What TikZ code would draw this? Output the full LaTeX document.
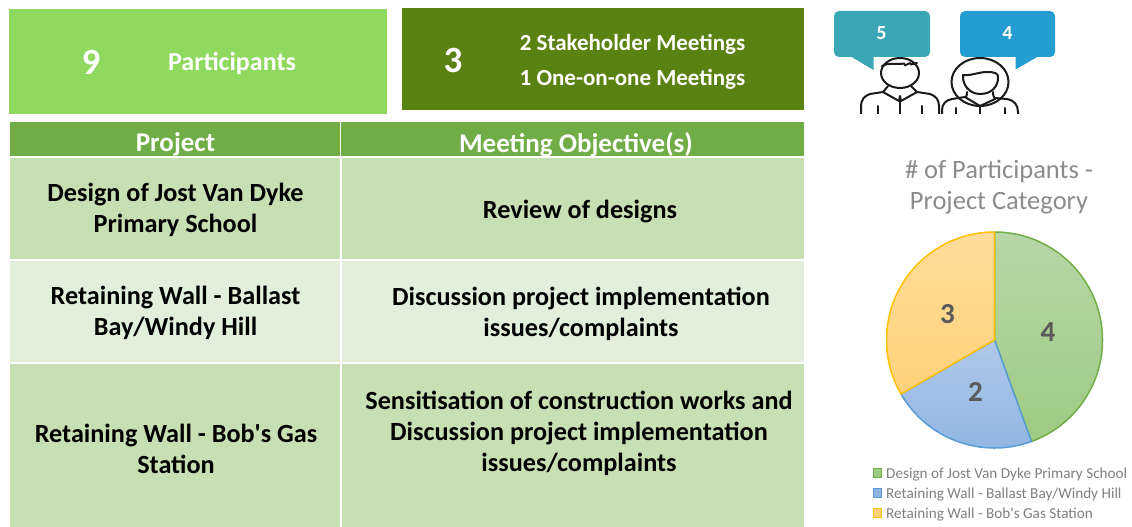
\documentclass[tikz,border=0pt]{standalone}
\usepackage{fontspec}
\setmainfont{Carlito}
\begin{document}
\begin{tikzpicture}[x=1pt,y=-1pt,
  every node/.style={font=\bfseries,align=center,inner sep=0pt},
  celltext/.style={font=\fontsize{26.2}{31}\selectfont\bfseries,text=black},
  headtext/.style={font=\fontsize{27}{30}\selectfont\bfseries,text=white},
  bannertext/.style={font=\fontsize{23}{35}\selectfont\bfseries,text=white},
  parttext/.style={font=\fontsize{26}{30}\selectfont\bfseries,text=white},
  bignum/.style={font=\fontsize{37}{40}\selectfont\bfseries,text=white},
  bubblenum/.style={font=\fontsize{20}{22}\selectfont\bfseries,text=white},
  pienum/.style={font=\fontsize{29}{30}\selectfont\bfseries,text=piegray},
  legendtext/.style={font=\fontsize{15.2}{17}\selectfont\mdseries,text=leggray,anchor=west},
  person/.style={draw=personblack,line width=2pt,line cap=round,line join=round},
  sw/.style={line width=1pt},
  slice/.style={line width=1.5pt,line join=round},
]
\definecolor{lightbanner}{HTML}{8FD95F}
\definecolor{darkbanner}{HTML}{5A8212}
\definecolor{headgreen}{HTML}{70AD47}
\definecolor{rowdark}{HTML}{C6E0B4}
\definecolor{rowlight}{HTML}{E2EFDA}
\definecolor{tealb}{HTML}{3AA8B4}
\definecolor{blueb}{HTML}{259DD0}
\definecolor{personblack}{HTML}{1A1A1A}
\definecolor{piegray}{HTML}{595959}
\definecolor{leggray}{HTML}{808080}
\definecolor{titlegray}{HTML}{8C8C8C}
\definecolor{pgreen}{HTML}{70AD47}
\definecolor{pblue}{HTML}{5B9BD5}
\definecolor{pyellow}{HTML}{FFC000}
\definecolor{gtop}{HTML}{B8D6A8}
\definecolor{gbot}{HTML}{9ECB82}
\definecolor{btop}{HTML}{AFC9E8}
\definecolor{bbot}{HTML}{8FB4E3}
\definecolor{ytop}{HTML}{FFDC9A}
\definecolor{ybot}{HTML}{FFD27A}
\useasboundingbox (0,0) rectangle (1132,527);
\fill[white] (0,0) rectangle (1132,527);

% banners
\fill[lightbanner] (9,9) rectangle (387,114);
\fill[darkbanner] (402,8) rectangle (804,110);
\node[bignum] (n9) at (91,62) {9};
\node[parttext] (part) at (232,63) {Participants};
\node[bignum] (n3) at (453,60) {3};
\node[bannertext] (m1) at (632.5,44.5) {2 Stakeholder Meetings};
\node[bannertext] (m2) at (632.5,79.5) {1 One-on-one Meetings};

% table
\fill[headgreen] (10,122) rectangle (340,156);
\fill[headgreen] (341,122) rectangle (804,156);
\fill[rowdark] (10,158) rectangle (339.5,259);
\fill[rowdark] (341.5,158) rectangle (804,259);
\fill[rowlight] (10,261) rectangle (339.5,362);
\fill[rowlight] (341.5,261) rectangle (804,362);
\fill[rowdark] (10,364) rectangle (339.5,527);
\fill[rowdark] (341.5,364) rectangle (804,527);
\node[headtext] (h1) at (175.5,144.5) {Project};
\node[headtext] (h2) at (576,144.5) {Meeting Objective(s)};
\node[celltext] (c11) at (175.5,210) {Design of Jost Van Dyke\\Primary School};
\node[celltext] (c12) at (580,211.5) {Review of designs};
\node[celltext] (c21) at (175.5,313) {Retaining Wall - Ballast\\Bay/Windy Hill};
\node[celltext] (c22) at (581,313.5) {Discussion project implementation\\issues/complaints};
\node[celltext] (c31) at (176,448.5) {Retaining Wall - Bob\textquotesingle s Gas\\Station};
\node[celltext] (c32) at (579,433.5) {Sensitisation of construction works and\\Discussion project implementation\\issues/complaints};

% speech bubbles
\fill[tealb,rounded corners=5pt] (834,11) rectangle (930,57);
\fill[tealb] (850,56) -- (873.5,70) -- (873.5,56) -- cycle;
\fill[blueb,rounded corners=5pt] (960,11) rectangle (1055,57);
\fill[blueb] (1015.5,56) -- (1015.5,69.5) -- (1039,56) -- cycle;
\node[bubblenum] (b5) at (881.5,33) {5};
\node[bubblenum] (b4) at (1007.5,33) {4};

% people
\begin{scope}
\clip (850,50) rectangle (1030,113);
% man
\draw[person] (900,73) ellipse (19 and 15);
\draw[person] (882,66) .. controls (888,62) and (896,65) .. (904,63.5) -- (905,65.5) -- (910,63) -- (911,64.5) -- (917,63);
\draw[person] (888,86) -- (883,92) -- (899,101) -- (900,96) -- (901,101) -- (917,92) -- (911,86);
\draw[person] (883,92) -- (870,94) .. controls (864,96) and (861,100) .. (861,106) -- (861,116);
\draw[person] (917,92) -- (930,94) .. controls (936,96) and (939,100) .. (939,106) -- (939,116);
\draw[person] (900,97) -- (900,116);
\draw[person] (877.5,106) -- (877.5,116);
\draw[person] (922,106) -- (922,116);
% woman
\draw[person] (980,82) ellipse (28.5 and 24);
\draw[person] (963,75) .. controls (972,76) and (978,72) .. (987,72) .. controls (994,72) and (999,73) .. (998,78) .. controls (998,86) and (992,94) .. (980,94) .. controls (969,94) and (962,84) .. (963,75) -- cycle;
\draw[person] (967,92) .. controls (967,96) and (966,97) .. (965,97) -- (980,106) -- (995,99) .. controls (994,97) and (993,96) .. (993,92);
\draw[person] (965,97) -- (952,99) .. controls (946,100) and (942,104) .. (942,110) -- (942,116);
\draw[person] (995,98) -- (1007,99) .. controls (1014,100) and (1018,105) .. (1018,112) -- (1018,116);
\draw[person] (980,106) -- (980,116);
\draw[person] (956,108) -- (956,116);
\draw[person] (1005,108) -- (1005,116);
\end{scope}

% chart
\node[font=\fontsize{26.5}{31}\selectfont\mdseries,text=titlegray] (title) at (999,187.5) {\# of Participants -\\Project Category};
\coordinate (o) at (994.5,340);
\path[slice,draw=pgreen,top color=gtop,bottom color=gbot]
  (o) -- ++(90:108 and -108) arc[start angle=90,end angle=-70,x radius=108,y radius=-108] -- cycle;
\path[slice,draw=pblue,top color=btop,bottom color=bbot]
  (o) -- ++(-70:108 and -108) arc[start angle=-70,end angle=-150,x radius=108,y radius=-108] -- cycle;
\path[slice,draw=pyellow,top color=ytop,bottom color=ybot]
  (o) -- ++(-150:108 and -108) arc[start angle=-150,end angle=-270,x radius=108,y radius=-108] -- cycle;
\node[pienum] (p4) at (1048,332) {4};
\node[pienum] (p2) at (975.5,392) {2};
\node[pienum] (p3) at (947.5,314) {3};

% legend
\draw[sw,draw=pgreen,fill=gbot] (873,468) rectangle (881.5,477);
\draw[sw,draw=pblue,fill=bbot] (873,488) rectangle (881.5,497);
\draw[sw,draw=pyellow,fill=ybot] (873,508) rectangle (881.5,517);
\node[legendtext] (l1) at (886,474.5) {Design of Jost Van Dyke Primary School};
\node[legendtext] (l2) at (886,495) {Retaining Wall - Ballast Bay/Windy Hill};
\node[legendtext] (l3) at (886,515) {Retaining Wall - Bob\textquotesingle s Gas Station};
\end{tikzpicture}
\end{document}
